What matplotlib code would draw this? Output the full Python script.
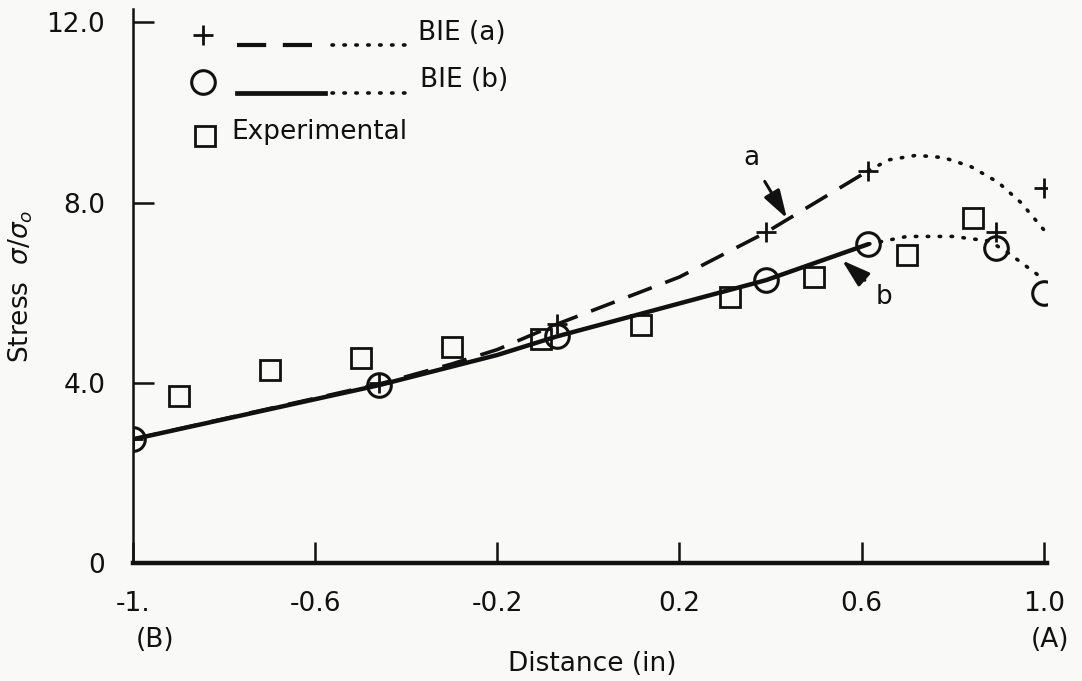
import numpy as np
import matplotlib
matplotlib.use("Agg")
import matplotlib.pyplot as plt

plus_x = [-1.0, -0.46, -0.07, 0.39, 0.615, 0.895, 1.0]
plus_y = [2.75, 4.0, 5.3, 7.34, 8.71, 7.34, 8.32]
circ_x = [-1.0, -0.46, -0.07, 0.39, 0.615, 0.895, 1.0]
circ_y = [2.75, 3.95, 5.03, 6.28, 7.08, 7.0, 6.0]
sq_x = [-0.9, -0.7, -0.5, -0.3, -0.105, 0.115, 0.31, 0.495, 0.70, 0.845]
sq_y = [3.72, 4.28, 4.55, 4.8, 4.98, 5.28, 5.9, 6.34, 6.83, 7.66]

# BIE (a): dashed part then dotted part
a_dash_x = [-1.0, -0.45, -0.3, -0.2, -0.07, 0.2, 0.39, 0.615]
a_dash_y = [2.75, 4.0, 4.42, 4.74, 5.3, 6.35, 7.34, 8.71]
a_dot_x = [0.615, 0.66, 0.72, 0.78, 0.84, 0.9, 0.95, 1.0]
a_dot_y = [8.71, 8.95, 9.05, 9.0, 8.8, 8.45, 8.0, 7.4]

# BIE (b): solid part then dotted part
b_line_x = [-1.0, -0.46, -0.2, -0.07, 0.39, 0.615]
b_line_y = [2.75, 3.95, 4.62, 5.03, 6.28, 7.08]
b_dot_x = [0.615, 0.7, 0.8, 0.88, 0.92, 0.96, 1.0]
b_dot_y = [7.08, 7.25, 7.25, 7.15, 6.9, 6.6, 6.3]

xticks = [-1.0, -0.6, -0.2, 0.2, 0.6, 1.0]
xtick_labels = ["-1.", "-0.6", "-0.2", "0.2", "0.6", "1.0"]
yticks = [0, 4, 8, 12]
ytick_labels = ["0", "4.0", "8.0", "12.0"]

ink = "#111111"
bg = "#f9f9f8"
fs = 19

plt.rcParams["font.family"] = ["DejaVu Sans"]

fig = plt.figure(figsize=(10.82, 6.81), dpi=100, facecolor=bg)
ax = fig.add_axes([0.123, 0.173, 0.845, 0.814])
ax.set_facecolor(bg)

dot_style = dict(color=ink, lw=2.6, linestyle=(0, (0.4, 2.9)),
                 dash_capstyle="round")

ax.plot(a_dash_x, a_dash_y, color=ink, lw=2.6, linestyle=(0, (7, 4)))
ax.plot(a_dot_x, a_dot_y, **dot_style)
ax.plot(b_line_x, b_line_y, color=ink, lw=3.2, solid_capstyle="round",
        solid_joinstyle="round")
ax.plot(b_dot_x, b_dot_y, **dot_style)

ax.plot(sq_x, sq_y, ls="none", marker="s", ms=14, mfc="none", mec=ink, mew=2.0)
ax.plot(circ_x, circ_y, ls="none", marker="o", ms=17, mfc="none", mec=ink, mew=2.2)
ax.plot(plus_x, plus_y, ls="none", marker="+", ms=15, mec=ink, mew=2.0)

# curve labels with arrows
arrow = dict(arrowstyle="-|>,head_length=0.9,head_width=0.28",
             color=ink, lw=2.2, shrinkB=0)
ax.annotate("a", xy=(0.436, 7.65), xytext=(0.357, 8.98), fontsize=fs,
            ha="center", va="center", color=ink,
            arrowprops=dict(arrow, shrinkA=6))
ax.annotate("b", xy=(0.557, 6.72), xytext=(0.65, 5.9), fontsize=fs,
            ha="center", va="center", color=ink,
            arrowprops=dict(arrow, shrinkA=8))

# hand drawn key in the upper left
tr = ax.transAxes
ax.plot([0.0766], [0.953], transform=tr, marker="+", ms=15, mec=ink, mew=2.0)
ax.plot([0.114, 0.212], [0.935, 0.935], transform=tr, color=ink, lw=3,
        linestyle=(0, (7, 4)))
ax.plot([0.218, 0.298], [0.935, 0.935], transform=tr, **dot_style)
ax.text(0.312, 0.957, "BIE (a)", transform=tr, fontsize=fs, va="center", color=ink)

ax.plot([0.0766], [0.868], transform=tr, marker="o", ms=17, mfc="none",
        mec=ink, mew=2.2)
ax.plot([0.114, 0.21], [0.848, 0.848], transform=tr, color=ink, lw=3.4)
ax.plot([0.218, 0.306], [0.848, 0.848], transform=tr, **dot_style)
ax.text(0.314, 0.872, "BIE (b)", transform=tr, fontsize=fs, va="center", color=ink)

ax.plot([0.079], [0.771], transform=tr, marker="s", ms=14, mfc="none",
        mec=ink, mew=2.0)
ax.text(0.107, 0.778, "Experimental", transform=tr, fontsize=fs,
        va="center", color=ink)

ax.set_xlim(-1.0, 1.008)
ax.set_ylim(0, 12.3)
ax.set_xticks(xticks)
ax.set_xticklabels(xtick_labels)
ax.set_yticks(yticks)
ax.set_yticklabels(ytick_labels)
ax.tick_params(direction="in", length=15, width=1.8, color=ink,
               labelsize=fs, labelcolor=ink)
ax.tick_params(axis="x", pad=20)
ax.tick_params(axis="y", pad=20)

for side in ["top", "right"]:
    ax.spines[side].set_visible(False)
ax.spines["bottom"].set_linewidth(3.2)
ax.spines["left"].set_linewidth(1.8)
ax.spines["bottom"].set_color(ink)
ax.spines["left"].set_color(ink)

ax.set_ylabel(r"Stress  $\sigma/\sigma_o$", fontsize=fs, color=ink, labelpad=8)

fig.text(0.143, 0.06, "(B)", fontsize=fs, ha="center", va="center", color=ink)
fig.text(0.97, 0.06, "(A)", fontsize=fs, ha="center", va="center", color=ink)
fig.text(0.547, 0.025, "Distance (in)", fontsize=fs, ha="center",
         va="center", color=ink)

fig.savefig("out.png", dpi=100, facecolor=bg)
